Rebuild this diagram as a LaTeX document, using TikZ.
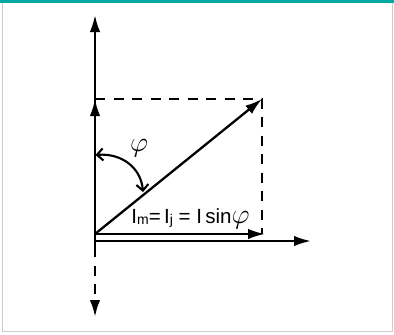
\documentclass[tikz,border=0pt]{standalone}
\usepackage{fontspec}
\setmainfont{Liberation Sans}
\usetikzlibrary{arrows.meta}
\definecolor{teal1}{RGB}{0,170,160}
\definecolor{frame1}{RGB}{205,205,205}
\newcommand\mysub[1]{\raisebox{-1.8pt}{\fontsize{14}{14}\selectfont #1}}
\newcommand\myphi{\scalebox{1.35}{$\varphi$}}
\begin{document}
\begin{tikzpicture}[x=1pt,y=-1pt,
  vec/.style={line width=2.3pt,-{Latex[length=17pt,width=10.5pt]}},
  dsh/.style={line width=2.5pt,dash pattern=on 10pt off 8.5pt},
  anglearc/.style={line width=2.1pt,{Straight Barb[length=6pt,width=12pt]}-{Straight Barb[length=6pt,width=12pt]}},
  lbl/.style={inner sep=0pt,font=\fontsize{20.5}{24}\selectfont}]
\useasboundingbox (0,0) rectangle (394,335);
\fill[white] (0,0) rectangle (394,335);
\draw[frame1,line width=1.2pt] (2.5,2) rectangle (392.8,331.5);
\fill[teal1] (0,0) rectangle (394,2.6);
% coordinates
\coordinate (O) at (95,234);
\coordinate (Vtop) at (95,15);
\coordinate (Vbase) at (95,247);
\coordinate (Vbot) at (95,317);
\coordinate (Ivert) at (95,99);
\coordinate (C) at (262,99);
\coordinate (Im) at (265,234);
\coordinate (Ax0) at (95,241);
\coordinate (Ax1) at (311,241);
\coordinate (Rb) at (262,234);
\coordinate (A1) at (95.5,155);
\coordinate (A2) at (143,192);
% axes
\draw[vec] (Vbase) -- (Vtop);
\draw[vec] (O) -- (Ivert);
\draw[dsh,-{Latex[length=17pt,width=10.5pt]}] (Vbase) -- (Vbot);
\draw[vec] (Ax0) -- (Ax1);
% dashed rectangle
\draw[dsh] (Ivert) -- (C) -- (Rb);
% vectors
\draw[vec] (O) -- (C);
\draw[vec] (O) -- (Im);
% angle
\draw[anglearc] (A1) .. controls (122,153) and (141,168) .. (A2);
\node[lbl,anchor=center] (phi) at (139,148) {\myphi};
\node[lbl,anchor=base] (eq) at (190.5,223) {I\mysub{m}=\,I\mysub{j} = I\,sin\myphi};
\end{tikzpicture}
\end{document}
